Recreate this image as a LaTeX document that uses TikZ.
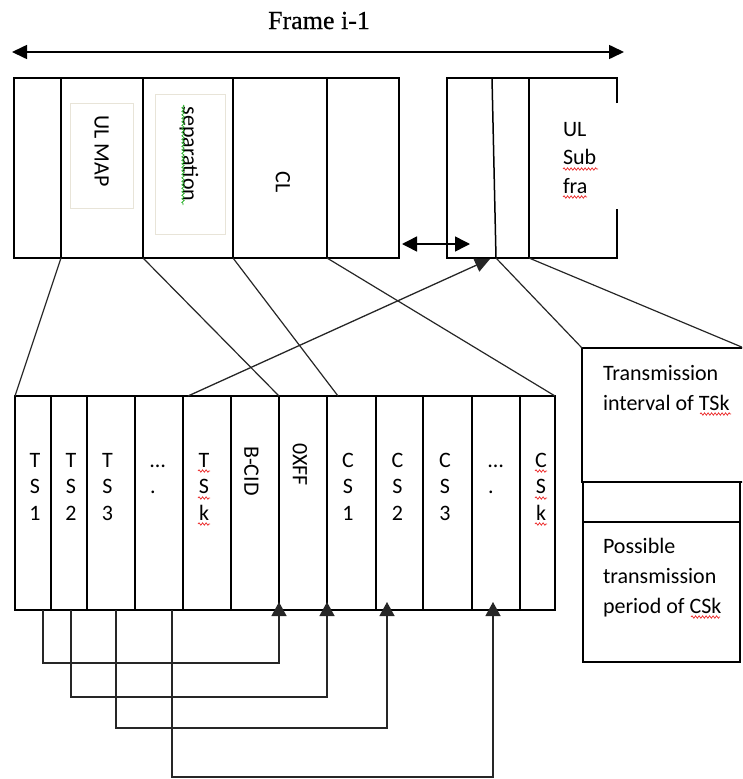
\documentclass[tikz,border=0pt]{standalone}
\usepackage{fontspec}
\setmainfont{Carlito}
\newfontfamily\frameserif[FakeBold=0.6]{Liberation Serif}
\usetikzlibrary{arrows.meta,decorations.pathmorphing}
\definecolor{innerbeige}{RGB}{232,228,216}
\definecolor{spellred}{RGB}{235,40,40}
\definecolor{spellgreen}{RGB}{40,175,40}
\newcommand\mkcol[5]{\node[colbox,minimum width={(#3-#2)*1pt},minimum height={(#5-#4)*1pt}] (#1) at ({(#2+#3)/2},{(#4+#5)/2}) {};}
\newcommand\mkstack[5]{%
  \node[txt,anchor=base] (#1a) at (#2,467) {#3};
  \node[txt,anchor=base] (#1b) at (#2,493.5) {#4};
  \node[txt,anchor=base] (#1c) at (#2,520) {#5};}
\begin{document}
\begin{tikzpicture}[x=1pt,y=-1pt,
  colbox/.style={draw,line width=1.5pt,rectangle,inner sep=0pt,outer sep=0pt},
  txt/.style={font=\fontsize{22}{26}\selectfont,inner sep=0pt,outer sep=0pt},
  link/.style={line width=1.2pt,draw=black!85},
  conn/.style={line width=1.3pt,draw=black!85,-{Triangle[length=14pt,width=15pt]}},
  frameline/.style={line width=1.5pt},
  innerbox/.style={draw=innerbeige,line width=1pt,rectangle,inner sep=0pt},
  wavy/.style={decorate,decoration={snake,amplitude=1.2pt,segment length=3.5pt},line width=0.7pt}
]
\useasboundingbox (0,0) rectangle (742,779);
\clip (0,0) rectangle (742,779);

% title and frame arrow
\node[font=\frameserif\fontsize{26}{30}\selectfont,anchor=base,inner sep=0pt] (framelabel) at (319,29) {Frame i-1};
\coordinate (topL) at (12,52);
\coordinate (topR) at (624,52);
\draw[line width=1.6pt,{Triangle[length=15pt,width=14pt]}-{Triangle[length=15pt,width=14pt]}] (topL) -- (topR);

% upper frame
\mkcol{f1}{14}{61}{78}{258}
\mkcol{f2}{61}{143}{78}{258}
\mkcol{f3}{143}{233}{78}{258}
\mkcol{f4}{233}{327}{78}{258}
\mkcol{f5}{327}{399}{78}{258}
\node[innerbox,minimum width=63pt,minimum height=105pt] (ulbox) at (101.5,155.5) {};
\node[innerbox,minimum width=70pt,minimum height=140pt] (sepbox) at (190,164) {};
\node[txt,rotate=-90] (ulmap) at (101.5,151) {UL MAP};
\node[txt,rotate=-90] (sep) at (189,154) {separation};
\node[txt,rotate=-90] (cl) at (283,182) {CL};
\draw[wavy,spellgreen] (183,105) -- (183,205);

% right (UL sub frame) box
\coordinate (rTL) at (447,78);
\coordinate (rBL) at (447,258);
\coordinate (rTR) at (617,78);
\coordinate (rBR) at (617,258);
\coordinate (rgapT) at (617,103);
\coordinate (rgapB) at (617,209);
\coordinate (d1t) at (492,78);
\coordinate (d1b) at (496,258);
\coordinate (d2t) at (529,78);
\coordinate (d2b) at (529,258);
\draw[frameline] (rgapT) -- (rTR) -- (rTL) -- (rBL) -- (rBR) -- (rgapB);
\draw[frameline] (d1t) -- (d1b);
\draw[frameline] (d2t) -- (d2b);
\node[txt,anchor=base west] (ulA) at (563,136) {UL};
\node[txt,anchor=base west] (ulB) at (563,164.5) {Sub};
\node[txt,anchor=base west] (ulC) at (563,193) {fra};
\draw[wavy,spellred] (563,169) -- (598,169);
\draw[wavy,spellred] (563,197) -- (587,197);

% gap arrow
\coordinate (gapL) at (402,244);
\coordinate (gapR) at (470,244);
\draw[line width=1.5pt,{Triangle[length=15pt,width=15pt]}-{Triangle[length=15pt,width=15pt]}] (gapL) -- (gapR);

% lower row
\mkcol{ts1}{15}{51}{396}{610}
\mkcol{ts2}{51}{87}{396}{610}
\mkcol{ts3}{87}{135}{396}{610}
\mkcol{tdots}{135}{183}{396}{610}
\mkcol{tsk}{183}{231}{396}{610}
\mkcol{bcid}{231}{279}{396}{610}
\mkcol{xff}{279}{327}{396}{610}
\mkcol{cs1}{327}{376}{396}{610}
\mkcol{cs2}{376}{423}{396}{610}
\mkcol{cs3}{423}{472}{396}{610}
\mkcol{cdots}{472}{520}{396}{610}
\mkcol{csk}{520}{555}{396}{610}

\mkstack{txA}{35}{T}{S}{1}
\mkstack{txB}{71}{T}{S}{2}
\mkstack{txC}{107.5}{T}{S}{3}
\mkstack{txK}{204}{T}{S}{k}
\mkstack{cxA}{348}{C}{S}{1}
\mkstack{cxB}{397.5}{C}{S}{2}
\mkstack{cxC}{445}{C}{S}{3}
\mkstack{cxK}{541}{C}{S}{k}
\node[txt,anchor=base west] (tdA) at (150,467) {…};
\node[txt,anchor=base west] (tdB) at (150,493.5) {.};
\node[txt,anchor=base west] (cdA) at (488,467) {…};
\node[txt,anchor=base west] (cdB) at (488,493.5) {.};
\node[txt,rotate=-90] (bcidtxt) at (251.5,471) {B-CID};
\node[txt,rotate=-90] (xfftxt) at (300,464.5) {0XFF};
\foreach \yy in {471,498,524}{
  \draw[wavy,spellred] (198,\yy) -- (210,\yy);
  \draw[wavy,spellred] (535,\yy) -- (547,\yy);
}

% links between rows
\coordinate (cs1top) at (338,396);
\coordinate (tsktop) at (188,396);
\coordinate (rtip) at (490,259);
\draw[link] (f2.south west) -- (ts1.north west);
\draw[link] (f3.south west) -- (xff.north west);
\draw[link] (f4.south west) -- (cs1top);
\draw[link] (f5.south west) -- (csk.north east);
\draw[link,line width=1.3pt,-{Triangle[length=15pt,width=14pt]}] (tsktop) -- (rtip);

% transmission boxes
\node[colbox,minimum width=162pt,minimum height=134pt] (tbox) at (663,415) {};
\node[colbox,minimum width=157pt,minimum height=180pt] (pbox) at (661.5,572) {};
\coordinate (pmidL) at (583,522);
\coordinate (pmidR) at (740,522);
\draw[frameline] (pmidL) -- (pmidR);
\draw[link] (d1b) -- (tbox.north west);
\draw[link] (d2b) -- (tbox.north east);
\node[txt,anchor=base west] (tr1) at (603,380) {Transmission};
\node[txt,anchor=base west] (tr2) at (603,410) {interval of TSk};
\node[txt,anchor=base west] (po1) at (603,553) {Possible};
\node[txt,anchor=base west] (po2) at (603,583) {transmission};
\node[txt,anchor=base west] (po3) at (603,613) {period of CSk};
\draw[wavy,spellred] (700,414) -- (731,414);
\draw[wavy,spellred] (691,617) -- (720,617);

% bottom connectors
\coordinate (s1) at (43,610);
\coordinate (s2) at (71,610);
\coordinate (s3) at (116,610);
\coordinate (s4) at (172,610);
\coordinate (t1) at (279,602);
\coordinate (t2) at (327,602);
\coordinate (t3) at (387,602);
\coordinate (t4) at (493,602);
\draw[conn] (s1) -- ++(0,53) -| (t1);
\draw[conn] (s2) -- ++(0,87) -| (t2);
\draw[conn] (s3) -- ++(0,118) -| (t3);
\draw[conn] (s4) -- ++(0,167) -| (t4);
\end{tikzpicture}
\end{document}
